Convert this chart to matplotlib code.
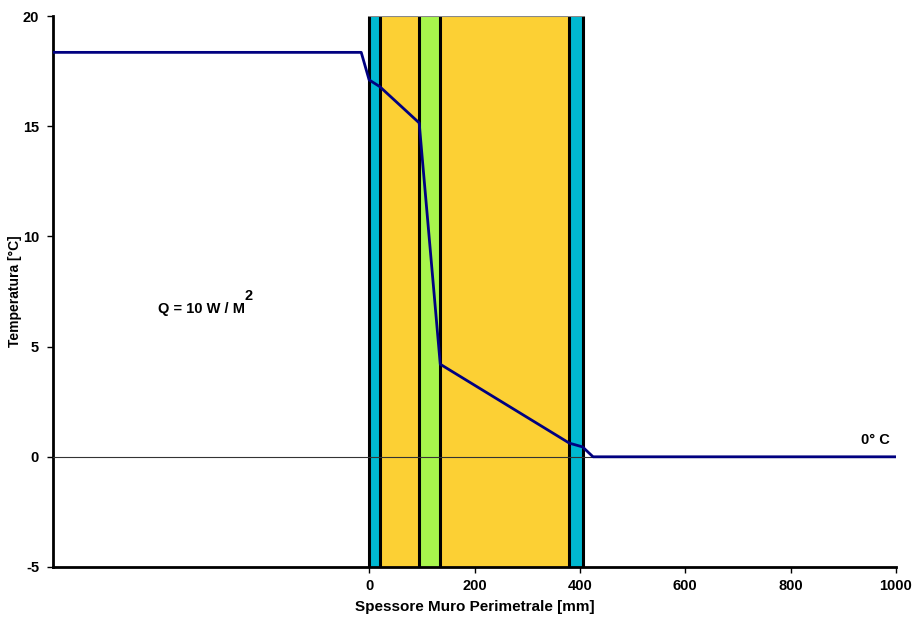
import matplotlib
matplotlib.use("Agg")
import matplotlib.pyplot as plt

# Layer boundaries [mm] and colors
layer_edges = [0, 20, 95, 135, 380, 405]
layer_colors = ["#00B8D0", "#FCD034", "#A8F54C", "#FCD034", "#00B8D0"]

# Temperature profile
pos_mm = [-600, -15, 0, 20, 95, 135, 380, 405, 425, 1000]
temp_c = [18.35, 18.35, 17.1, 16.8, 15.15, 4.2, 0.62, 0.45, 0.0, 0.0]

xticks = [0, 200, 400, 600, 800, 1000]
yticks = [-5, 0, 5, 10, 15, 20]

plt.rcParams['font.family'] = ['Liberation Sans', 'DejaVu Sans']
plt.rcParams['axes.unicode_minus'] = False

fig = plt.figure(figsize=(9.14, 6.2), dpi=100)
ax = fig.add_axes([53/914, 1-567/620, (896-53)/914, (567-16)/620])
ymin, ymax = -5, 20
ax.set_xlim(-600, 1000)
ax.set_ylim(ymin, ymax)

lefts = layer_edges[:-1]
widths = [b - a for a, b in zip(layer_edges[:-1], layer_edges[1:])]
ax.bar(lefts, [ymax - ymin]*len(lefts), bottom=ymin, width=widths, align='edge',
       color=layer_colors, edgecolor='none', zorder=1)
ax.vlines(layer_edges, ymin, ymax, colors='black', linewidth=2.2, zorder=2)
ax.hlines(ymax, layer_edges[0], layer_edges[-1], colors='#888888', linewidth=1.5, zorder=2)

ax.axhline(0, color='#333333', linewidth=0.8, zorder=3)
ax.plot(pos_mm, temp_c, color='#000080', linewidth=2, zorder=4)

ax.set_xticks(xticks)
ax.set_yticks(yticks)
ax.tick_params(axis='both', labelsize=10.5, width=1, length=4, direction='out', colors='black')
ax.tick_params(axis='y', pad=6)
ax.tick_params(axis='x', pad=5)
for lab in ax.get_xticklabels() + ax.get_yticklabels():
    lab.set_fontweight('bold')

for s in ['top', 'right']:
    ax.spines[s].set_visible(False)
for s in ['left', 'bottom']:
    ax.spines[s].set_linewidth(2)

ax.set_xlabel('Spessore Muro Perimetrale [mm]', fontsize=11, fontweight='bold', labelpad=5)
ax.set_ylabel('Temperatura [°C]', fontsize=10, fontweight='bold')
ax.yaxis.set_label_coords((22 - 53) / (896 - 53), 0.5)

ax.text(-400, 6.7, 'Q = 10 W / M', fontsize=10.5, fontweight='bold', ha='left', va='center')
ax.text(-236, 7.3, '2', fontsize=10.5, fontweight='bold', ha='left', va='center')
ax.text(988, 0.45, '0° C', fontsize=10.5, fontweight='bold', ha='right', va='bottom')

fig.savefig('out.png', dpi=100)
